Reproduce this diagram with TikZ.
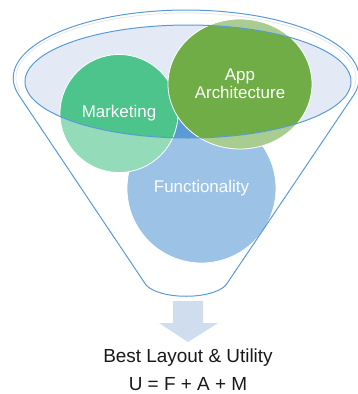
\documentclass[tikz,border=0pt]{standalone}
\usepackage{fontspec}
\setmainfont{Liberation Sans}
\usetikzlibrary{shapes.geometric}

\definecolor{rimblue}{RGB}{91,155,213}
\definecolor{rimfill}{RGB}{227,234,246}
\definecolor{mktgreen}{RGB}{76,196,139}
\definecolor{appgreen}{RGB}{112,173,71}
\definecolor{funcblue}{RGB}{91,155,213}
\definecolor{arrowblue}{RGB}{208,221,238}
\definecolor{bevel}{RGB}{226,229,234}

\tikzset{
  bubble/.style={circle, draw=white, line width=0.8bp, inner sep=0pt,
    text=white, font=\fontsize{17}{18}\selectfont, align=center},
  funnelline/.style={draw=rimblue, line width=1bp},
  caption/.style={text=black!90, font=\fontsize{19}{22}\selectfont},
}

\begin{document}
\begin{tikzpicture}[x=1bp,y=-1bp]
  \useasboundingbox[fill=white] (0,0) rectangle (358,394);

  % funnel body: top arc of the outer rim, straight sides, rounded spout
  \def\funnelpath{(19,95.4) arc[start angle=194.8, end angle=-14.8,
      x radius=173bp, y radius=68bp]
    -- (226,285) .. controls (212,300) and (160,300) .. (146,285) -- cycle}

  % inside of the rim
  \fill[rimfill] (188,81.5) ellipse[x radius=163bp, y radius=56.5bp];

  % the three ingredients (white labels stay white under the glass wash)
  \node[bubble, fill=funcblue, minimum size=149bp] (func) at (201.5,188.5) {Functionality};
  \node[bubble, fill=mktgreen, minimum size=118bp] (mkt) at (119,113.5) {Marketing};
  \node[bubble, ellipse, fill=appgreen, minimum width=144bp, minimum height=130bp]
    (app) at (240,84) {App\\Architecture};

  % glass of the funnel washes out everything outside the rim opening
  \fill[white, fill opacity=0.4, even odd rule] \funnelpath
    (188,81.5) ellipse[x radius=163bp, y radius=56.5bp];

  % bevel highlight just inside the outer rim
  \draw[bevel, line width=0.7bp] (186,78) ++(192:170bp and 65bp)
    arc[start angle=192, end angle=-12, x radius=170bp, y radius=65bp];

  % outlines
  \path[funnelline] \funnelpath;
  \draw[funnelline] (188,81.5) ellipse[x radius=163bp, y radius=56.5bp];

  % outcome arrow and result
  \coordinate (spout) at (188,301);
  \fill[arrowblue] (spout) ++(-15,0) -- ++(30,0) -- (203,323) -- (218,323)
    -- (188,342) -- (159,323) -- (173,323) -- cycle;

  \node[caption] (result) at (188,358) {Best Layout \& Utility};
  \node[caption] (formula) at (188,384) {U = F + A + M};
\end{tikzpicture}
\end{document}
